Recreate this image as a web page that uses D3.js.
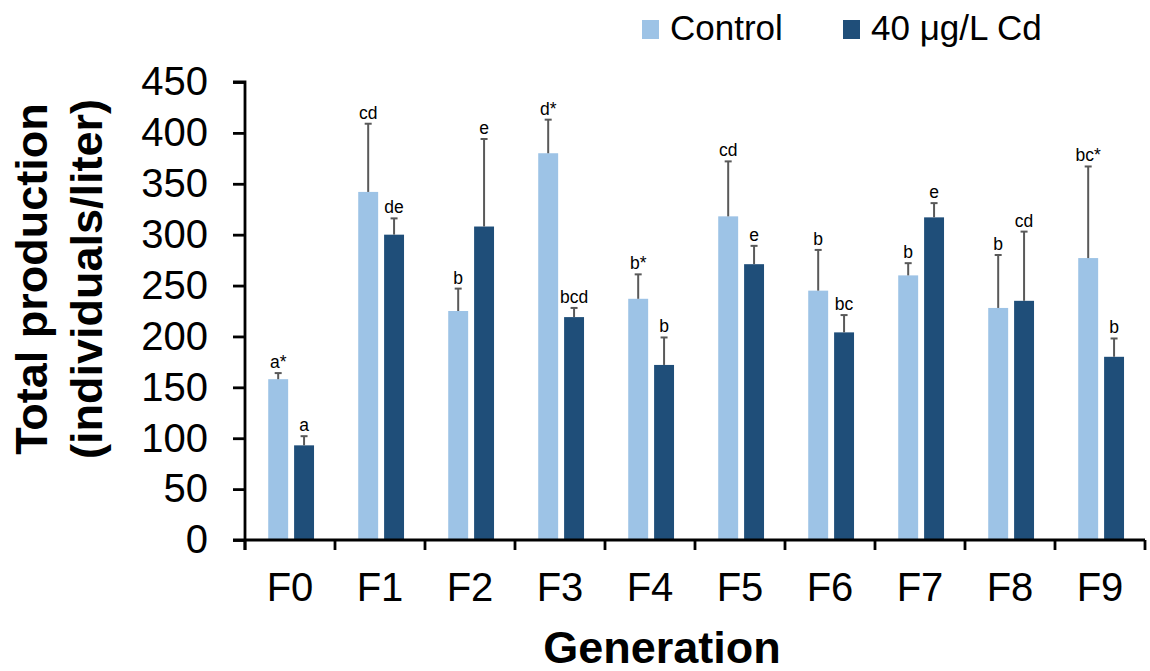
<!DOCTYPE html>
<html>
<head>
<meta charset="utf-8">
<script src="https://cdn.jsdelivr.net/npm/d3@7"></script>
<style>
  html, body { margin: 0; padding: 0; background: #fff; }
  svg { display: block; font-family: Arial, "Liberation Sans", sans-serif; }
</style>
</head>
<body>
<svg id="chart" width="1150" height="671"></svg>
<script>
const categories = ["F0","F1","F2","F3","F4","F5","F6","F7","F8","F9"];
const seriesNames = ["Control", "40 μg/L Cd"];
const controlValues = [158, 342, 225, 380, 237, 318, 245, 260, 228, 277];
const controlErrors = [6, 67, 22, 33, 24, 54, 40, 12, 52, 90];
const controlLabels = ["a*", "cd", "b", "d*", "b*", "cd", "b", "b", "b", "bc*"];
const cdValues = [93, 300, 308, 219, 172, 271, 204, 317, 235, 180];
const cdErrors = [9, 16, 86, 9, 27, 18, 17, 14, 68, 18];
const cdLabels = ["a", "de", "e", "bcd", "b", "e", "bc", "e", "cd", "b"];
const yTicks = [0, 50, 100, 150, 200, 250, 300, 350, 400, 450];
const colors = ["#9DC3E6", "#1F4E79"];

const svg = d3.select("#chart");
const mLeft = 245, mRight = 1145, mTop = 82, mBottom = 540;

const x0 = d3.scaleBand().domain(categories).range([mLeft, mRight]).padding(0);
const x1 = d3.scaleBand().domain(seriesNames)
  .range([x0.bandwidth() * 0.258, x0.bandwidth() * 0.767]).paddingInner(0.23);
const y = d3.scaleLinear().domain([0, 450]).range([mBottom, mTop]);

const data = categories.map((c, i) => ({
  cat: c,
  vals: [
    {s: seriesNames[0], v: controlValues[i], e: controlErrors[i], l: controlLabels[i], c: colors[0]},
    {s: seriesNames[1], v: cdValues[i], e: cdErrors[i], l: cdLabels[i], c: colors[1]}
  ]
}));

const groups = svg.append("g").selectAll("g").data(data).join("g")
  .attr("transform", d => `translate(${x0(d.cat)},0)`);

groups.selectAll("rect").data(d => d.vals).join("rect")
  .attr("x", d => x1(d.s))
  .attr("width", x1.bandwidth())
  .attr("y", d => y(d.v))
  .attr("height", d => y(0) - y(d.v))
  .attr("fill", d => d.c);

// error bars (upper only)
const eb = groups.selectAll("g.err").data(d => d.vals).join("g").attr("class", "err");
eb.append("line")
  .attr("x1", d => x1(d.s) + x1.bandwidth() / 2)
  .attr("x2", d => x1(d.s) + x1.bandwidth() / 2)
  .attr("y1", d => y(d.v))
  .attr("y2", d => y(d.v + d.e))
  .attr("stroke", "#595959").attr("stroke-width", 2);
eb.append("line")
  .attr("x1", d => x1(d.s) + x1.bandwidth() / 2 - 3.5)
  .attr("x2", d => x1(d.s) + x1.bandwidth() / 2 + 3.5)
  .attr("y1", d => y(d.v + d.e))
  .attr("y2", d => y(d.v + d.e))
  .attr("stroke", "#595959").attr("stroke-width", 2);
eb.append("text")
  .attr("x", d => x1(d.s) + x1.bandwidth() / 2)
  .attr("y", d => y(d.v + d.e) - 5)
  .attr("text-anchor", "middle")
  .attr("font-size", 17.5)
  .attr("fill", "#000")
  .text(d => d.l);

// Y axis
const yAxis = d3.axisLeft(y).tickValues(yTicks).tickSize(12).tickPadding(25);
const gy = svg.append("g").attr("transform", `translate(${mLeft},0)`).call(yAxis);
gy.select(".domain").attr("stroke", "#000").attr("stroke-width", 2.8)
  .attr("d", `M-12,${mTop}H0V${mBottom + 10}`);
gy.selectAll(".tick line").attr("stroke", "#000").attr("stroke-width", 2.8);
gy.selectAll(".tick text").attr("font-size", 40).attr("fill", "#000")
  .attr("font-family", "Arial, 'Liberation Sans', sans-serif");

// X axis baseline with boundary ticks
const xAxisG = svg.append("g");
xAxisG.append("line").attr("x1", mLeft - 12).attr("x2", mRight)
  .attr("y1", y(0)).attr("y2", y(0)).attr("stroke", "#000").attr("stroke-width", 2.8);
const boundaries = categories.map(c => x0(c)).concat([mRight]);
xAxisG.selectAll("line.bt").data(boundaries).join("line").attr("class", "bt")
  .attr("x1", d => d).attr("x2", d => d)
  .attr("y1", y(0)).attr("y2", y(0) + 10)
  .attr("stroke", "#000").attr("stroke-width", 2.8);
xAxisG.selectAll("text").data(categories).join("text")
  .attr("x", d => x0(d) + x0.bandwidth() / 2)
  .attr("y", 601)
  .attr("text-anchor", "middle")
  .attr("font-size", 40)
  .attr("fill", "#000")
  .text(d => d);

// Axis titles
svg.append("text").attr("x", 662).attr("y", 663)
  .attr("text-anchor", "middle").attr("font-size", 45).attr("font-weight", "bold")
  .text("Generation");
const yt = svg.append("text").attr("transform", `translate(0,279) rotate(-90)`)
  .attr("text-anchor", "middle").attr("font-size", 45).attr("font-weight", "bold");
yt.append("tspan").attr("x", 0).attr("y", 47).text("Total production");
yt.append("tspan").attr("x", 0).attr("y", 102).text("(individuals/liter)");

// Legend
const legendX = [642, 843];
const lg = svg.append("g").selectAll("g").data(seriesNames).join("g")
  .attr("transform", (d, i) => `translate(${legendX[i]},20)`);
lg.append("rect").attr("width", 17).attr("height", 19).attr("fill", (d, i) => colors[i]);
lg.append("text").attr("x", 28).attr("y", 20).attr("font-size", 35).attr("fill", "#000").text(d => d);
</script>
</body>
</html>
